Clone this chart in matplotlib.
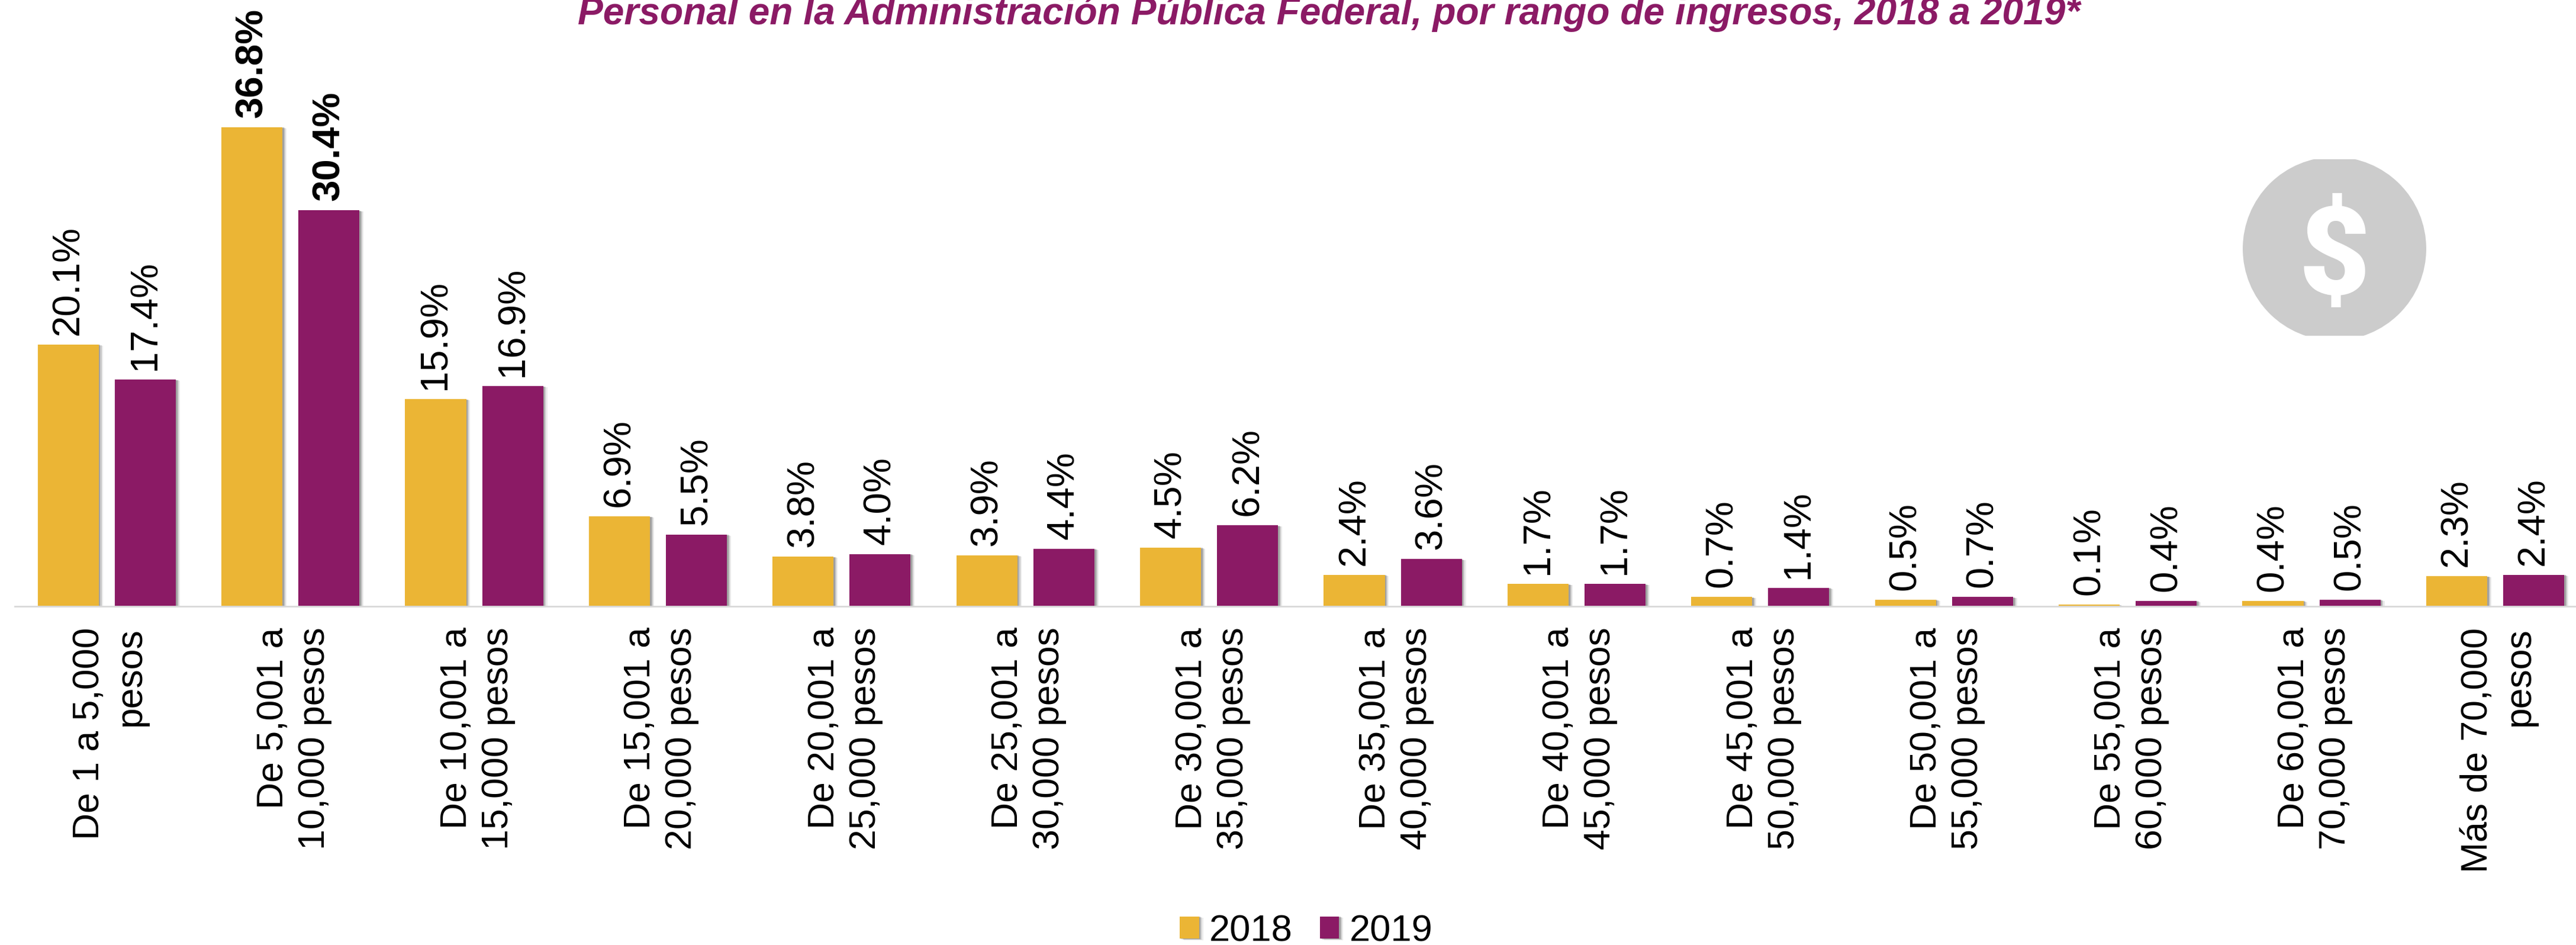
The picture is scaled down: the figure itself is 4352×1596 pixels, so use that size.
import matplotlib
matplotlib.use("Agg")
import matplotlib.pyplot as plt
import matplotlib.patheffects as pe
import matplotlib.transforms as mtrans
import numpy as np
from matplotlib.patches import Ellipse, Rectangle

plt.rcParams["font.family"] = ["Liberation Sans", "DejaVu Sans"]

# ---------------- DATA ----------------
categories = [
    "De 1 a 5,000\npesos",
    "De 5,001 a\n10,000 pesos",
    "De 10,001 a\n15,000 pesos",
    "De 15,001 a\n20,000 pesos",
    "De 20,001 a\n25,000 pesos",
    "De 25,001 a\n30,000 pesos",
    "De 30,001 a\n35,000 pesos",
    "De 35,001 a\n40,000 pesos",
    "De 40,001 a\n45,000 pesos",
    "De 45,001 a\n50,000 pesos",
    "De 50,001 a\n55,000 pesos",
    "De 55,001 a\n60,000 pesos",
    "De 60,001 a\n70,000 pesos",
    "Más de 70,000\npesos",
]
values_2018 = [20.1, 36.8, 15.9, 6.9, 3.8, 3.9, 4.5, 2.4, 1.7, 0.7, 0.5, 0.1, 0.4, 2.3]
values_2019 = [17.4, 30.4, 16.9, 5.5, 4.0, 4.4, 6.2, 3.6, 1.7, 1.4, 0.7, 0.4, 0.5, 2.4]
title = "Personal en la Administración Pública Federal, por rango de ingresos, 2018 a 2019*"

GOLD = "#EBB535"
PURPLE = "#8B1A65"
W, H = 4352, 1596

fig = plt.figure(figsize=(W / 100, H / 100), dpi=100, facecolor="white")

# axes runs from x=25 to the right edge, baseline at y=1023.5 px
ax = fig.add_axes([25 / W, 1 - 1023.5 / H, (W - 25) / W, 1023.5 / H])
ax.patch.set_alpha(0)
ax.set_xlim(-0.5, 13.44)
ax.set_ylim(0, 46.56)

x = np.arange(len(categories))
shadow = [
    pe.SimplePatchShadow(offset=(5, -1.5), shadow_rgbFace="#000000", alpha=0.08),
    pe.SimplePatchShadow(offset=(3.5, -1), shadow_rgbFace="#000000", alpha=0.14),
    pe.SimplePatchShadow(offset=(2, -0.5), shadow_rgbFace="#000000", alpha=0.2),
    pe.Normal(),
]
bars_2018 = ax.bar(x - 0.2095, values_2018, 0.332, color=GOLD, label="2018")
bars_2019 = ax.bar(x + 0.2095, values_2019, 0.332, color=PURPLE, label="2019")

for bars, vals in [(bars_2018, values_2018), (bars_2019, values_2019)]:
    for b in bars:
        b.set_path_effects(shadow)
    labels = ax.bar_label(
        bars,
        labels=[f"{v:.1f}%" for v in vals],
        rotation=90,
        padding=11.5,
        fontsize=47,
        color="black",
        clip_on=False,
    )
    labels[1].set_fontweight("bold")

# axis line, no y axis
for s in ["top", "left", "right"]:
    ax.spines[s].set_visible(False)
ax.spines["bottom"].set_color("#D9D9D9")
ax.spines["bottom"].set_linewidth(2)
ax.set_yticks([])
ax.set_xticks(x)
ax.set_xticklabels(categories, rotation=90, ha="center", va="top",
                   multialignment="right", fontsize=45, linespacing=1.24)
ax.tick_params(axis="x", length=0, pad=26)
# the two-line labels sit a little right of the group centre
shift = mtrans.ScaledTranslation(5.5 / 100, 0, fig.dpi_scale_trans)
for lab in ax.get_xticklabels():
    lab.set_transform(lab.get_transform() + shift)

# legend at the bottom
ax.legend(
    loc="lower center",
    bbox_to_anchor=(2206.5 / W, -6 / H, 0, 0),
    bbox_transform=fig.transFigure,
    ncol=2,
    frameon=False,
    fontsize=45.5,
    handlelength=0.52,
    handleheight=0.54,
    handletextpad=0.27,
    columnspacing=0.73,
    borderpad=0,
    borderaxespad=0,
)

fig.text(2245 / W, 1 - 41 / H, title, color=PURPLE, fontsize=46.2,
         fontweight="bold", fontstyle="italic", ha="center", va="baseline")

# money icon, top and bottom of the circle are cut off in the original
clip = Rectangle((3780 / W, 1 - 567 / H), 330 / W, 298 / H, transform=fig.transFigure)
icon = Ellipse((3944 / W, 1 - 420 / H), 310 / W, 310 / H, transform=fig.transFigure,
               facecolor="#CCCCCC", edgecolor="none")
fig.add_artist(icon)
icon.set_clip_path(clip)
fig.text(3944 / W, 1 - 419 / H, r"\$", color="white", fontsize=150, family="Roboto",
         fontweight="black", ha="center", va="center_baseline")

fig.savefig("out.png", dpi=100)
plt.close(fig)
